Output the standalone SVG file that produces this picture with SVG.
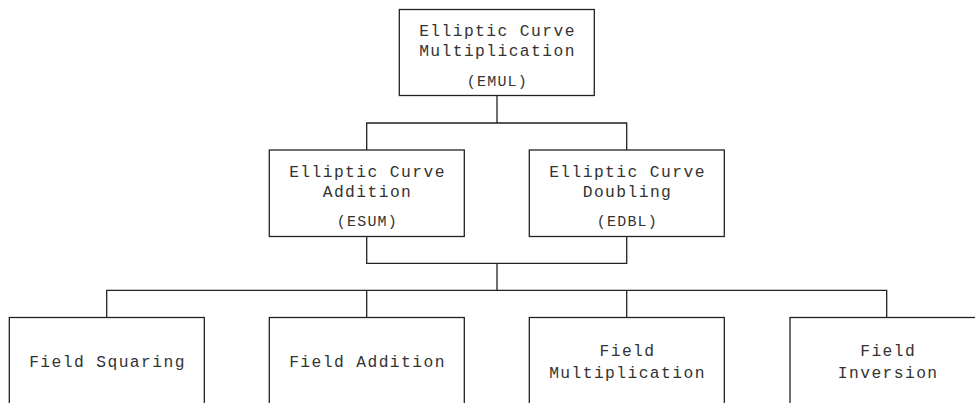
<svg xmlns="http://www.w3.org/2000/svg" width="975" height="403" viewBox="0 0 975 403">
  <style>
    .box { fill: #ffffff; stroke: #222222; stroke-width: 1.3; }
    .wire { fill: none; stroke: #222222; stroke-width: 1.3; }
    .t { font-family: "Courier New", "Liberation Mono", monospace; font-size: 16.3px; letter-spacing: 1.42px; fill: #333333; text-anchor: middle; }
    .abbr { font-size: 15px; letter-spacing: 1.2px; }
  </style>
  <rect width="975" height="403" fill="#ffffff"/>

  <!-- connectors -->
  <g id="connectors">
    <path class="wire" d="M497,95.5 V123 M366.7,150 V123 H626.7 V150"/>
    <path class="wire" d="M366.7,236.5 V263.3 H626.7 V236.5 M497,263.3 V290.3"/>
    <path class="wire" d="M106.7,317.5 V290.3 H886.7 V317.5 M366.7,290.3 V317.5 M626.7,290.3 V317.5"/>
  </g>

  <!-- level 1 -->
  <g id="emul">
    <rect class="box" x="399.3" y="9.5" width="195" height="86"/>
    <text class="t" x="497.5" y="36">Elliptic Curve</text>
    <text class="t" x="497.5" y="56">Multiplication</text>
    <text class="t abbr" x="497.4" y="85.5">(EMUL)</text>
  </g>

  <!-- level 2 -->
  <g id="esum">
    <rect class="box" x="269.3" y="150" width="195" height="86.5"/>
    <text class="t" x="367.5" y="176.5">Elliptic Curve</text>
    <text class="t" x="367.5" y="196.5">Addition</text>
    <text class="t abbr" x="367.4" y="226">(ESUM)</text>
  </g>
  <g id="edbl">
    <rect class="box" x="529.3" y="150" width="195" height="86.5"/>
    <text class="t" x="627.5" y="176.5">Elliptic Curve</text>
    <text class="t" x="627.5" y="196.5">Doubling</text>
    <text class="t abbr" x="627.4" y="226">(EDBL)</text>
  </g>

  <!-- level 3 -->
  <g id="field-squaring">
    <rect class="box" x="9.3" y="317.5" width="195" height="100"/>
    <text class="t" x="107.5" y="367">Field Squaring</text>
  </g>
  <g id="field-addition">
    <rect class="box" x="269.3" y="317.5" width="195" height="100"/>
    <text class="t" x="367.5" y="367">Field Addition</text>
  </g>
  <g id="field-multiplication">
    <rect class="box" x="529.3" y="317.5" width="195" height="100"/>
    <text class="t" x="627.5" y="356">Field</text>
    <text class="t" x="627.5" y="377.5">Multiplication</text>
  </g>
  <g id="field-inversion">
    <rect class="box" x="790" y="317.5" width="195" height="100"/>
    <text class="t" x="888.2" y="356">Field</text>
    <text class="t" x="888.2" y="377.5">Inversion</text>
  </g>
</svg>
